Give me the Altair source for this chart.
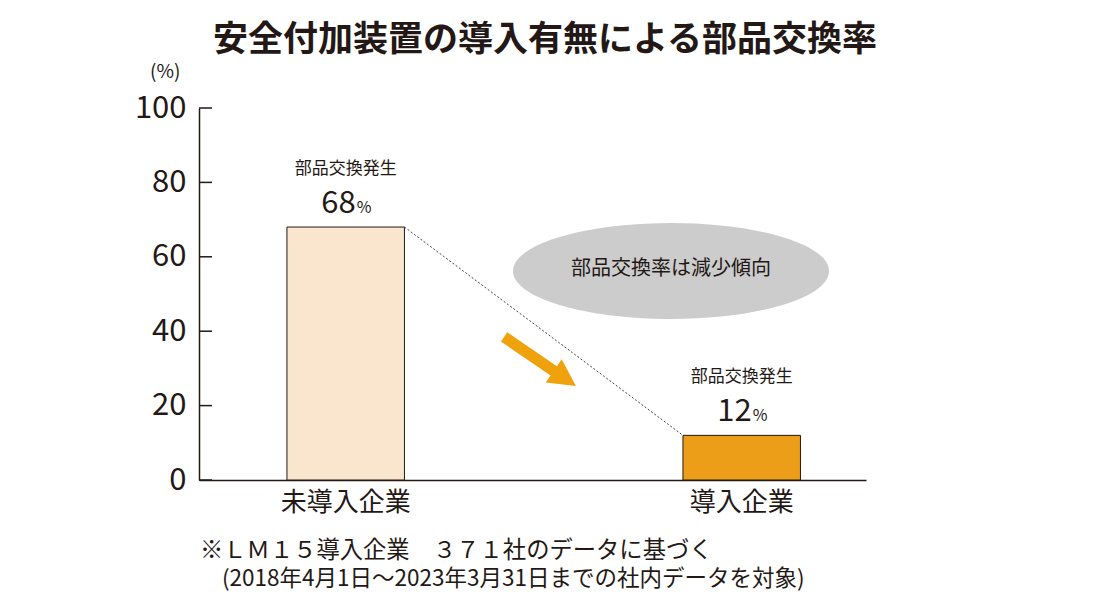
import json
import altair as alt
import pandas as pd

# ---- data ----
categories = ["未導入企業", "導入企業"]
rates = [68, 12]
bar_colors = ["#FAE6CE", "#EC9E18"]
top_label = "部品交換発生"
y_ticks = [0, 20, 40, 60, 80, 100]
title_text = "安全付加装置の導入有無による部品交換率"
unit_text = "(%)"
bubble_text = "部品交換率は減少傾向"
note1 = "※ＬＭ１５導入企業　３７１社のデータに基づく"
note2 = "(2018年4月1日～2023年3月31日までの社内データを対象)"

FONT = "Noto Sans CJK JP"
INK = "#231815"
W, H = 667, 372

bars_df = pd.DataFrame({"cat": categories, "val": rates,
                        "num": [str(v) for v in rates]})
ticks_df = pd.DataFrame({"t": y_ticks})
link_df = pd.DataFrame({"y1": [rates[0]], "y2": [rates[1]]})
one = pd.DataFrame({"k": [0]})

xscale = alt.Scale(domain=categories, paddingInner=0.7033,
                   paddingOuter=0.1938, align=0.573)
yscale = alt.Scale(domain=[0, 100], nice=False, zero=True)
xaxis = alt.Axis(title=None, labelAngle=0, ticks=False, tickSize=0,
                 domainColor=INK, domainWidth=1.5, labelFont=FONT,
                 labelFontSize=26, labelColor=INK, labelPadding=9,
                 grid=False)
yaxis = alt.Axis(title=None, values=y_ticks, ticks=False, tickSize=0,
                 domainColor=INK, domainWidth=1.5, labelFont=FONT,
                 labelFontSize=31, labelColor=INK, labelPadding=13,
                 grid=False)


def X(field="cat:N"):
    return alt.X(field, sort=categories, scale=xscale, axis=xaxis)


def Y(field="val:Q"):
    return alt.Y(field, scale=yscale, axis=yaxis)


base = alt.Chart(bars_df)

bars = base.mark_bar(stroke=INK, strokeWidth=1).encode(
    x=X(), y=Y(),
    color=alt.Color("cat:N", scale=alt.Scale(domain=categories, range=bar_colors),
                    legend=None),
)

tick_rules = alt.Chart(ticks_df).mark_rule(color=INK, strokeWidth=1.5).encode(
    x=alt.value(0), x2=alt.value(13), y=Y("t:Q"),
)

c1, c2 = json.dumps(categories[0]), json.dumps(categories[1])
link = alt.Chart(link_df).mark_rule(color="#444444", strokeWidth=1,
                                    strokeDash=[2, 2]).encode(
    x={"value": {"expr": f"scale('x', {c1}) + bandwidth('x')"}},
    x2={"value": {"expr": f"scale('x', {c2})"}},
    y=Y("y1:Q"), y2="y2:Q",
)

lab_top = base.mark_text(font=FONT, fontSize=17, color=INK, baseline="middle",
                         dy=-58).encode(x=X(), y=Y(), text=alt.value(top_label))
lab_num = base.mark_text(font=FONT, fontSize=31, color=INK, align="right",
                         baseline="alphabetic", dx=10, dy=-14).encode(
    x=X(), y=Y(), text="num:N")
lab_pct = base.mark_text(font=FONT, fontSize=16, color=INK, align="left",
                         baseline="alphabetic", dx=11, dy=-14).encode(
    x=X(), y=Y(), text=alt.value("%"))

ellipse_path = "M-1,0A1,0.304,0,1,1,1,0A1,0.304,0,1,1,-1,0Z"
ellipse = alt.Chart(one).mark_point(shape=ellipse_path, size=316 ** 2, filled=True,
                                    color="#CCCCCC", opacity=1, strokeWidth=0).encode(
    x=alt.value(472), y=alt.value(163))
ellipse_txt = alt.Chart(one).mark_text(font=FONT, fontSize=20, color=INK,
                                       baseline="middle").encode(
    x=alt.value(472), y=alt.value(161), text=alt.value(bubble_text))

arrow_path = ("M-1,-0.129L0.382,-0.129L0.382,-0.325L1,0L0.382,0.325"
              "L0.382,0.129L-1,0.129Z")
arrow = alt.Chart(one).mark_point(shape=arrow_path, size=87 ** 2, filled=True,
                                  color="#F0A20C", opacity=1, strokeWidth=0,
                                  angle=34.4).encode(
    x=alt.value(341), y=alt.value(253.5))

title = alt.Chart(one).mark_text(font=FONT, fontSize=35, fontWeight="bold",
                                 color=INK, baseline="middle").encode(
    x=alt.value(346), y=alt.value(-68), text=alt.value(title_text))
unit = alt.Chart(one).mark_text(font=FONT, fontSize=19, color=INK, align="left",
                                baseline="middle").encode(
    x=alt.value(-49), y=alt.value(-36), text=alt.value(unit_text))
n1 = alt.Chart(one).mark_text(font=FONT, fontSize=23.3, color=INK, align="left",
                              baseline="middle").encode(
    x=alt.value(1), y=alt.value(443), text=alt.value(note1))
n2 = alt.Chart(one).mark_text(font=FONT, fontSize=22.5, color=INK, align="left",
                              baseline="middle").encode(
    x=alt.value(23), y=alt.value(471), text=alt.value(note2))

chart = alt.layer(
    ellipse, ellipse_txt, arrow, bars, tick_rules, link,
    lab_top, lab_num, lab_pct, title, unit, n1, n2,
).properties(
    width=W, height=H,
    autosize=alt.AutoSizeParams(type="none"),
    padding={"left": 191, "top": 100, "right": 226, "bottom": 112},
).configure(background="white").configure_view(stroke=None, strokeWidth=0)

chart.save("out.html", embed_options={"renderer": "svg", "actions": False})
